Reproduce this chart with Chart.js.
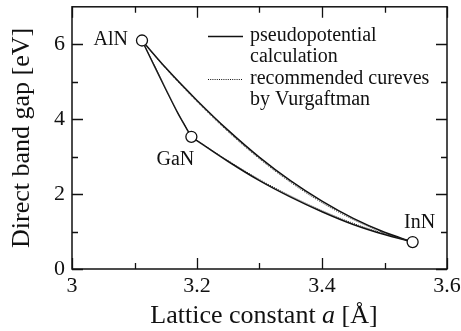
<!DOCTYPE html>
<html>
<head>
<meta charset="utf-8">
<script src="https://cdn.jsdelivr.net/npm/chart.js@4.4.1/dist/chart.umd.min.js"></script>
<style>
  html, body { margin: 0; padding: 0; background: #fff; }
  #wrap { width: 461px; height: 331px; position: relative; }
</style>
</head>
<body>
<div id="wrap"><canvas id="gapChart"></canvas></div>
<script>
// binary compounds
const compounds = ['AlN', 'GaN', 'InN'];
const compoundLattice = [3.112, 3.191, 3.545];
const compoundGap = [6.10, 3.53, 0.72];

// AlN - InN
const latticeAlInN = [3.112, 3.15, 3.20, 3.25, 3.30, 3.35, 3.40, 3.45, 3.50, 3.545];
const gapAlInN = [6.10, 5.37, 4.50, 3.70, 2.98, 2.35, 1.81, 1.35, 0.98, 0.72];
const gapAlInNRec = [6.10, 5.35, 4.47, 3.66, 2.94, 2.31, 1.77, 1.32, 0.96, 0.72];

// GaN - InN
const latticeGaInN = [3.191, 3.25, 3.30, 3.35, 3.40, 3.45, 3.50, 3.545];
const gapGaInN = [3.53, 2.87, 2.36, 1.92, 1.53, 1.19, 0.92, 0.72];
const gapGaInNRec = [3.53, 2.89, 2.39, 1.95, 1.56, 1.22, 0.94, 0.72];

// AlN - GaN
const latticeAlGaN = [3.112, 3.13, 3.15, 3.17, 3.191];
const gapAlGaN = [6.10, 5.48, 4.80, 4.14, 3.53];
const gapAlGaNRec = [6.10, 5.49, 4.81, 4.15, 3.53];

// axes
const xMajor = [3, 3.2, 3.4, 3.6];
const xMinor = [3.1, 3.3, 3.5];
const yMajor = [0, 2, 4, 6];
const yMinor = [1, 3, 5];

const legendLabels = [['pseudopotential', 'calculation'], ['recommended cureves', 'by Vurgaftman']];

const FONT = '"Liberation Serif", "Times New Roman", serif';
const INK = '#111';

function pts(xs, ys) {
    return xs.map((x, i) => ({ x: x, y: ys[i] }));
}

function curve(data, dotted) {
    return {
        type: 'line',
        data: data,
        borderColor: dotted ? '#222' : INK,
        borderWidth: dotted ? 1 : 1.5,
        borderDash: dotted ? [1, 1.2] : [],
        pointRadius: 0,
        cubicInterpolationMode: 'monotone',
        fill: false,
        order: dotted ? 1 : 2
    };
}

const decorPlugin = {
    id: 'decor',
    afterDatasetsDraw(chart) {
        const c = chart.ctx;
        const xs = chart.scales.x, ys = chart.scales.y;
        const a = chart.chartArea;
        c.save();
        c.strokeStyle = INK;
        c.lineWidth = 1.5;
        c.strokeRect(a.left, a.top, a.right - a.left, a.bottom - a.top);

        // inward ticks on all four sides
        c.lineWidth = 1.3;
        c.beginPath();
        const tickX = (v, len) => {
            const p = Math.round(xs.getPixelForValue(v)) + 0.5;
            c.moveTo(p, a.bottom); c.lineTo(p, a.bottom - len);
            c.moveTo(p, a.top); c.lineTo(p, a.top + len);
        };
        const tickY = (v, len) => {
            const p = Math.round(ys.getPixelForValue(v)) + 0.5;
            c.moveTo(a.left, p); c.lineTo(a.left + len, p);
            c.moveTo(a.right, p); c.lineTo(a.right - len, p);
        };
        xMajor.forEach(v => tickX(v, 11));
        xMinor.forEach(v => tickX(v, 6));
        yMajor.forEach(v => tickY(v, 11));
        yMinor.forEach(v => tickY(v, 6));
        c.stroke();

        // compound labels
        c.fillStyle = INK;
        c.font = '20px ' + FONT;
        c.textBaseline = 'middle';
        const off = { AlN: [-14, -1, 'right'], GaN: [-16, 23, 'center'], InN: [7, -19, 'center'] };
        compounds.forEach((n, i) => {
            const px = xs.getPixelForValue(compoundLattice[i]);
            const py = ys.getPixelForValue(compoundGap[i]);
            c.textAlign = off[n][2];
            c.fillText(n, px + off[n][0], py + off[n][1]);
        });

        // legend
        c.textAlign = 'left';
        c.lineWidth = 1.5;
        c.beginPath(); c.moveTo(208, 36.5); c.lineTo(243, 36.5); c.stroke();
        c.lineWidth = 1;
        c.setLineDash([1, 1.2]);
        c.beginPath(); c.moveTo(208, 79.5); c.lineTo(243, 79.5); c.stroke();
        c.setLineDash([]);
        c.fillText(legendLabels[0][0], 250, 36);
        c.fillText(legendLabels[0][1], 250, 57);
        c.fillText(legendLabels[1][0], 250, 79);
        c.fillText(legendLabels[1][1], 250, 100);

        // axis titles
        c.font = '26px ' + FONT;
        c.textBaseline = 'alphabetic';
        const p1 = 'Lattice constant ', p2 = 'a', p3 = ' [Å]';
        const w1 = c.measureText(p1).width;
        const w3 = c.measureText(p3).width;
        c.font = 'italic 26px ' + FONT;
        const w2 = c.measureText(p2).width;
        let x0 = 264 - (w1 + w2 + w3) / 2;
        c.font = '26px ' + FONT;
        c.fillText(p1, x0, 323);
        c.font = 'italic 26px ' + FONT;
        c.fillText(p2, x0 + w1, 323);
        c.font = '26px ' + FONT;
        c.fillText(p3, x0 + w1 + w2, 323);

        c.translate(22, (a.top + a.bottom) / 2);
        c.rotate(-Math.PI / 2);
        c.textAlign = 'center';
        c.textBaseline = 'middle';
        c.fillText('Direct band gap [eV]', 0, 0);
        c.restore();
    }
};

new Chart(document.getElementById('gapChart'), {
    type: 'line',
    data: {
        datasets: [
            curve(pts(latticeAlInN, gapAlInN), false),
            curve(pts(latticeAlInN, gapAlInNRec), true),
            curve(pts(latticeGaInN, gapGaInN), false),
            curve(pts(latticeGaInN, gapGaInNRec), true),
            curve(pts(latticeAlGaN, gapAlGaN), false),
            curve(pts(latticeAlGaN, gapAlGaNRec), true),
            {
                type: 'scatter',
                data: pts(compoundLattice, compoundGap),
                pointRadius: 5.5,
                pointBackgroundColor: '#fff',
                pointBorderColor: INK,
                pointBorderWidth: 1.3,
                showLine: false,
                order: 0
            }
        ]
    },
    options: {
        responsive: true,
        maintainAspectRatio: false,
        animation: false,
        events: [],
        layout: { padding: { top: 5, right: 14, left: 0, bottom: 0 } },
        plugins: { legend: { display: false }, tooltip: { enabled: false } },
        scales: {
            x: {
                type: 'linear',
                min: 3, max: 3.6,
                grid: { display: false, drawTicks: false },
                border: { display: false },
                afterBuildTicks: s => { s.ticks = xMajor.map(v => ({ value: v })); },
                afterFit: s => { s.height = 62; s.paddingLeft = 0; s.paddingRight = 0; },
                ticks: {
                    padding: 4,
                    color: INK,
                    maxRotation: 0,
                    font: { family: FONT, size: 22 },
                    callback: v => String(v)
                }
            },
            y: {
                type: 'linear',
                min: 0, max: 7,
                grid: { display: false, drawTicks: false },
                border: { display: false },
                afterBuildTicks: s => { s.ticks = yMajor.map(v => ({ value: v })); },
                afterFit: s => { s.width = 72; s.paddingTop = 0; s.paddingBottom = 0; },
                ticks: {
                    padding: 7,
                    color: INK,
                    font: { family: FONT, size: 22 },
                    callback: v => String(v)
                }
            }
        }
    },
    plugins: [decorPlugin]
});
</script>
</body>
</html>
